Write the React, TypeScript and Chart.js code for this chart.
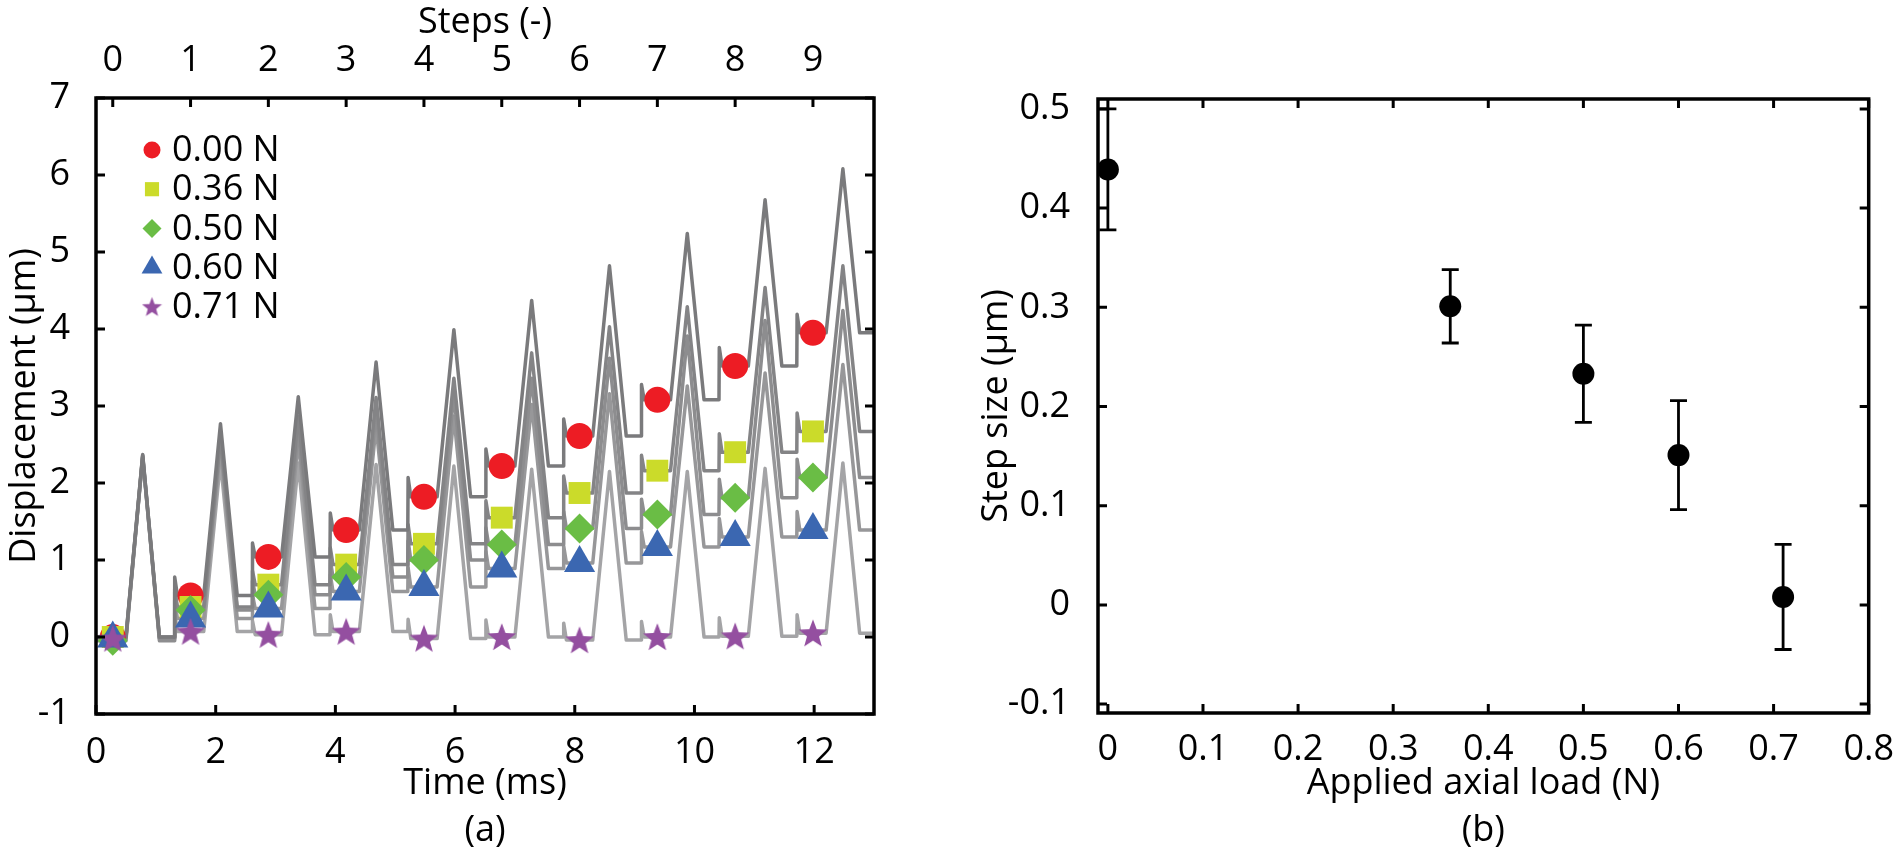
import React, { useEffect, useRef } from 'react';
import Chart from 'chart.js/auto';
import { drawPoint } from 'chart.js/helpers';

Chart.defaults.font.family = "'Open Sans', sans-serif";
Chart.defaults.color = '#000';

// ---- (a) displacement vs time ----
const stepTimes = [0.28, 1.58, 2.88, 4.18, 5.48, 6.78, 8.08, 9.38, 10.68, 11.98]; // ms
const stepTicks = [0, 1, 2, 3, 4, 5, 6, 7, 8, 9];
const timeTicks = [0, 2, 4, 6, 8, 10, 12];
const dispTicks = [-1, 0, 1, 2, 3, 4, 5, 6, 7];

const loadLabels = ['0.00 N', '0.36 N', '0.50 N', '0.60 N', '0.71 N'];

// plateau level at each step (where the markers sit), um
const disp000 = [0.0, 0.54, 1.04, 1.39, 1.82, 2.22, 2.61, 3.08, 3.52, 3.95];
const disp036 = [0.0, 0.39, 0.68, 0.94, 1.21, 1.55, 1.87, 2.16, 2.4, 2.67];
const disp050 = [-0.05, 0.35, 0.55, 0.78, 1.0, 1.2, 1.41, 1.59, 1.81, 2.07];
const disp060 = [-0.02, 0.24, 0.37, 0.59, 0.65, 0.89, 0.96, 1.17, 1.3, 1.39];
const disp071 = [-0.02, 0.07, 0.03, 0.07, -0.02, 0.0, -0.04, 0.0, 0.01, 0.05];

// pulse peak of each cycle, um
const peak000 = [2.37, 2.77, 3.12, 3.57, 3.99, 4.37, 4.82, 5.24, 5.68, 6.08];
const peak036 = [2.36, 2.62, 2.87, 3.11, 3.36, 3.69, 4.03, 4.29, 4.54, 4.82];
const peak050 = [2.35, 2.56, 2.7, 2.93, 3.15, 3.36, 3.62, 3.91, 4.11, 4.24];
const peak060 = [2.34, 2.45, 2.55, 2.74, 2.87, 3.02, 3.16, 3.26, 3.43, 3.54];
const peak071 = [2.33, 2.28, 2.26, 2.24, 2.22, 2.18, 2.15, 2.15, 2.19, 2.26];

// overshoot at the step edge, um
const spikeRise = [0, 0.24, 0.18, 0.22, 0.25, 0.22, 0.22, 0.2, 0.24, 0.24];

// pulse timing relative to each step marker, ms
const edgeAt = -0.27;
const settleAt = -0.22;
const riseAt = 0.22;
const peakAt = 0.5;
const fallAt = 0.78;
const timeEnd = 13;

// ---- (b) step size vs load ----
const sizeLoads = [0.0, 0.36, 0.5, 0.6, 0.71];
const stepSizes = [0.439, 0.301, 0.233, 0.151, 0.008];
const stepErrors = [0.061, 0.037, 0.049, 0.055, 0.053];
const loadTicks = [0, 0.1, 0.2, 0.3, 0.4, 0.5, 0.6, 0.7, 0.8];
const sizeTicks = [-0.1, 0, 0.1, 0.2, 0.3, 0.4, 0.5];

const markerColors = ['#ED1C24', '#CBDB2A', '#6ABD45', '#3B67B1', '#944FA0'];
const traceColors = ['#7a7a7c', '#848486', '#8d8d8f', '#979799', '#a4a4a6'];

const FONT = 36;

function buildTrace(levels: number[], peaks: number[]) {
  const pts: { x: number; y: number }[] = [{ x: 0, y: levels[0] }];
  levels.forEach((lvl, k) => {
    const m = stepTimes[k];
    if (k > 0) {
      pts.push({ x: m + edgeAt, y: levels[k - 1] });
      pts.push({ x: m + edgeAt + 0.005, y: lvl + spikeRise[k] });
      pts.push({ x: m + settleAt, y: lvl });
    }
    pts.push({ x: m + riseAt, y: lvl });
    pts.push({ x: m + peakAt, y: peaks[k] });
    pts.push({ x: m + fallAt, y: lvl });
  });
  pts.push({ x: timeEnd, y: levels[levels.length - 1] });
  return pts;
}

function makeStar(size: number, color: string) {
  const c = document.createElement('canvas');
  c.width = size;
  c.height = size;
  const g = c.getContext('2d')!;
  const R = size / 2;
  const r = R * 0.42;
  const cx = size / 2;
  const cy = size / 2 + R * 0.08;
  g.beginPath();
  for (let i = 0; i < 10; i++) {
    const ang = -Math.PI / 2 + (i * Math.PI) / 5;
    const rad = i % 2 === 0 ? R : r;
    g.lineTo(cx + rad * Math.cos(ang), cy + rad * Math.sin(ang));
  }
  g.closePath();
  g.fillStyle = color;
  g.fill();
  return c;
}

// frame with inward ticks on all four sides
const frameTicks = {
  id: 'frameTicks',
  afterDraw(chart: any, _args: any, opts: any) {
    const { ctx, chartArea: a } = chart;
    const bottom = chart.scales[opts.bottom];
    const top = chart.scales[opts.top];
    const side = chart.scales[opts.side];
    const len = 9;
    ctx.save();
    ctx.strokeStyle = '#000';
    ctx.lineWidth = 3;
    ctx.beginPath();
    bottom.ticks.forEach((t: any) => {
      const x = bottom.getPixelForValue(t.value);
      ctx.moveTo(x, a.bottom);
      ctx.lineTo(x, a.bottom - len);
    });
    top.ticks.forEach((t: any) => {
      const x = top.getPixelForValue(t.value);
      ctx.moveTo(x, a.top);
      ctx.lineTo(x, a.top + len);
    });
    side.ticks.forEach((t: any) => {
      const y = side.getPixelForValue(t.value);
      ctx.moveTo(a.left, y);
      ctx.lineTo(a.left + len, y);
      ctx.moveTo(a.right, y);
      ctx.lineTo(a.right - len, y);
    });
    ctx.stroke();
    ctx.lineWidth = 3.5;
    ctx.strokeRect(a.left, a.top, a.right - a.left, a.bottom - a.top);
    ctx.restore();
  },
};

// legend in the upper left of panel (a)
const markerKey = {
  id: 'markerKey',
  afterDatasetsDraw(chart: any, _args: any, opts: any) {
    if (!opts.items) return;
    const { ctx, chartArea: a } = chart;
    ctx.save();
    opts.items.forEach((it: any, i: number) => {
      const y = a.top + 52 + i * 39.2;
      ctx.fillStyle = it.color;
      drawPoint(ctx, { pointStyle: it.style, radius: it.radius, rotation: 0, borderWidth: 0 } as any, a.left + 56, y);
      ctx.fillStyle = '#000';
      ctx.font = `${FONT}px 'Open Sans', sans-serif`;
      ctx.textBaseline = 'middle';
      ctx.textAlign = 'left';
      ctx.fillText(it.label, a.left + 76, y + 1);
    });
    ctx.restore();
  },
};

// vertical error bars with caps for panel (b)
const errorBars = {
  id: 'errorBars',
  beforeDatasetsDraw(chart: any) {
    const { ctx } = chart;
    const xs = chart.scales.x;
    const ys = chart.scales.y;
    ctx.save();
    ctx.strokeStyle = '#000';
    ctx.lineWidth = 2.8;
    ctx.beginPath();
    sizeLoads.forEach((load, i) => {
      const x = xs.getPixelForValue(load);
      const yHi = ys.getPixelForValue(stepSizes[i] + stepErrors[i]);
      const yLo = ys.getPixelForValue(stepSizes[i] - stepErrors[i]);
      ctx.moveTo(x, yHi);
      ctx.lineTo(x, yLo);
      ctx.moveTo(x - 8.5, yHi);
      ctx.lineTo(x + 8.5, yHi);
      ctx.moveTo(x - 8.5, yLo);
      ctx.lineTo(x + 8.5, yLo);
    });
    ctx.stroke();
    ctx.restore();
  },
};

const tickFont = { size: FONT };
const titleFont = { size: FONT, lineHeight: 1.3 };

const DisplacementChart: React.FC = () => {
  const canvasRef = useRef<HTMLCanvasElement | null>(null);
  const chartRef = useRef<Chart | null>(null);

  useEffect(() => {
    const ctx = canvasRef.current?.getContext('2d');
    if (!ctx) return;
    if (chartRef.current) chartRef.current.destroy();

    const levels = [disp000, disp036, disp050, disp060, disp071];
    const peaks = [peak000, peak036, peak050, peak060, peak071];
    const star = makeStar(30, markerColors[4]);
    const legendStar = makeStar(21, markerColors[4]);
    const styles: any[] = ['circle', 'rect', 'rectRot', 'triangle', star];
    const radii = [13, 15.5, 15, 18, 15];
    const legendStyles: any[] = ['circle', 'rect', 'rectRot', 'triangle', legendStar];
    const legendRadii = [8.5, 10, 9.5, 12, 10];

    const traces = levels.map((lv, i) => ({
      label: loadLabels[i] + ' trace',
      data: buildTrace(lv, peaks[i]),
      showLine: true,
      borderColor: traceColors[i],
      borderWidth: 3.5,
      borderJoinStyle: 'round',
      pointRadius: 0,
      tension: 0,
      order: 10 + i,
      xAxisID: 'x',
      yAxisID: 'y',
    }));
    const markers = levels.map((lv, i) => ({
      label: loadLabels[i],
      data: lv.map((v, k) => ({ x: stepTimes[k], y: v })),
      showLine: false,
      pointStyle: styles[i],
      pointRadius: radii[i],
      backgroundColor: markerColors[i],
      borderWidth: 0,
      order: 5 - i,
      xAxisID: 'x',
      yAxisID: 'y',
    }));

    const period = (stepTimes[stepTimes.length - 1] - stepTimes[0]) / (stepTicks.length - 1);

    chartRef.current = new Chart(ctx, {
      type: 'scatter',
      data: { datasets: [...traces, ...markers] as any },
      options: {
        responsive: false,
        animation: false,
        events: [],
        layout: { padding: { top: 0, right: 76, bottom: 0, left: 0 } },
        plugins: {
          legend: { display: false },
          tooltip: { enabled: false },
          frameTicks: { bottom: 'x', top: 'x2', side: 'y' },
          markerKey: {
            items: loadLabels.map((label, i) => ({
              label,
              color: markerColors[i],
              style: legendStyles[i],
              radius: legendRadii[i],
            })),
          },
        } as any,
        scales: {
          x: {
            type: 'linear',
            position: 'bottom',
            min: 0,
            max: timeEnd,
            bounds: 'data',
            grid: { display: false },
            border: { display: false },
            ticks: { font: tickFont, padding: 9, maxRotation: 0, autoSkip: false, callback: (v: any) => String(v) },
            afterBuildTicks: (s: any) => { s.ticks = timeTicks.map((v) => ({ value: v })); },
            afterFit: (s: any) => { s.height = 140; },
            title: { display: true, text: ['Time (ms)', '(a)'], font: titleFont, padding: { top: 0, bottom: 0 } },
          },
          x2: {
            type: 'linear',
            position: 'top',
            min: -stepTimes[0] / period,
            max: (timeEnd - stepTimes[0]) / period,
            bounds: 'data',
            grid: { display: false },
            border: { display: false },
            ticks: { font: tickFont, padding: 8, maxRotation: 0, autoSkip: false, callback: (v: any) => String(v) },
            afterBuildTicks: (s: any) => { s.ticks = stepTicks.map((v) => ({ value: v })); },
            afterFit: (s: any) => { s.height = 98; },
            title: { display: true, text: 'Steps (-)', font: { size: FONT, lineHeight: 1.2 }, padding: { top: 1, bottom: 0 } },
          },
          y: {
            type: 'linear',
            position: 'left',
            min: -1,
            max: 7,
            bounds: 'data',
            grid: { display: false },
            border: { display: false },
            ticks: { font: tickFont, padding: 18, autoSkip: false, callback: (v: any) => String(v) },
            afterBuildTicks: (s: any) => { s.ticks = dispTicks.map((v) => ({ value: v })); },
            afterFit: (s: any) => { s.width = 96; },
            title: { display: true, text: 'Displacement (µm)', font: { size: FONT, lineHeight: 1.2 }, padding: { top: 3, bottom: 0 } },
          },
        },
      } as any,
      plugins: [frameTicks, markerKey],
    } as any);

    return () => {
      if (chartRef.current) {
        chartRef.current.destroy();
        chartRef.current = null;
      }
    };
  }, []);

  return <canvas ref={canvasRef} width={950} height={854} style={{ position: 'absolute', left: 0, top: 0 }} />;
};

const StepSizeChart: React.FC = () => {
  const canvasRef = useRef<HTMLCanvasElement | null>(null);
  const chartRef = useRef<Chart | null>(null);

  useEffect(() => {
    const ctx = canvasRef.current?.getContext('2d');
    if (!ctx) return;
    if (chartRef.current) chartRef.current.destroy();

    chartRef.current = new Chart(ctx, {
      type: 'scatter',
      data: {
        datasets: [
          {
            label: 'Step size',
            data: sizeLoads.map((x, i) => ({ x, y: stepSizes[i] })),
            pointStyle: 'circle',
            pointRadius: 11,
            backgroundColor: '#000',
            borderWidth: 0,
          },
        ],
      },
      options: {
        responsive: false,
        animation: false,
        events: [],
        layout: { padding: { top: 99, right: 25, bottom: 0, left: 0 } },
        plugins: {
          legend: { display: false },
          tooltip: { enabled: false },
          frameTicks: { bottom: 'x', top: 'x', side: 'y' },
        } as any,
        scales: {
          x: {
            type: 'linear',
            min: -0.0104,
            max: 0.8,
            bounds: 'data',
            grid: { display: false },
            border: { display: false },
            ticks: { font: tickFont, padding: 7, maxRotation: 0, autoSkip: false, callback: (v: any) => (v === 0 ? '0' : Number(v).toFixed(1)) },
            afterBuildTicks: (s: any) => { s.ticks = loadTicks.map((v) => ({ value: v })); },
            afterFit: (s: any) => { s.height = 141; },
            title: { display: true, text: ['Applied axial load (N)', '(b)'], font: titleFont, padding: { top: 0, bottom: 0 } },
          },
          y: {
            type: 'linear',
            min: -0.109,
            max: 0.51,
            bounds: 'data',
            grid: { display: false },
            border: { display: false },
            ticks: { font: tickFont, padding: 20, autoSkip: false, callback: (v: any) => (v === 0 ? '0' : Number(v).toFixed(1)) },
            afterBuildTicks: (s: any) => { s.ticks = sizeTicks.map((v) => ({ value: v })); },
            afterFit: (s: any) => { s.width = 148; },
            title: { display: true, text: 'Step size (µm)', font: { size: FONT, lineHeight: 1.2 }, padding: { top: 25, bottom: 0 } },
          },
        },
      } as any,
      plugins: [frameTicks, errorBars],
    } as any);

    return () => {
      if (chartRef.current) {
        chartRef.current.destroy();
        chartRef.current = null;
      }
    };
  }, []);

  return <canvas ref={canvasRef} width={951} height={854} style={{ position: 'absolute', left: 950, top: 0 }} />;
};

const App: React.FC = () => (
  <div style={{ position: 'absolute', left: 0, top: 0, width: 1901, height: 854, background: '#fff', overflow: 'hidden' }}>
    <DisplacementChart />
    <StepSizeChart />
  </div>
);

export default App;
